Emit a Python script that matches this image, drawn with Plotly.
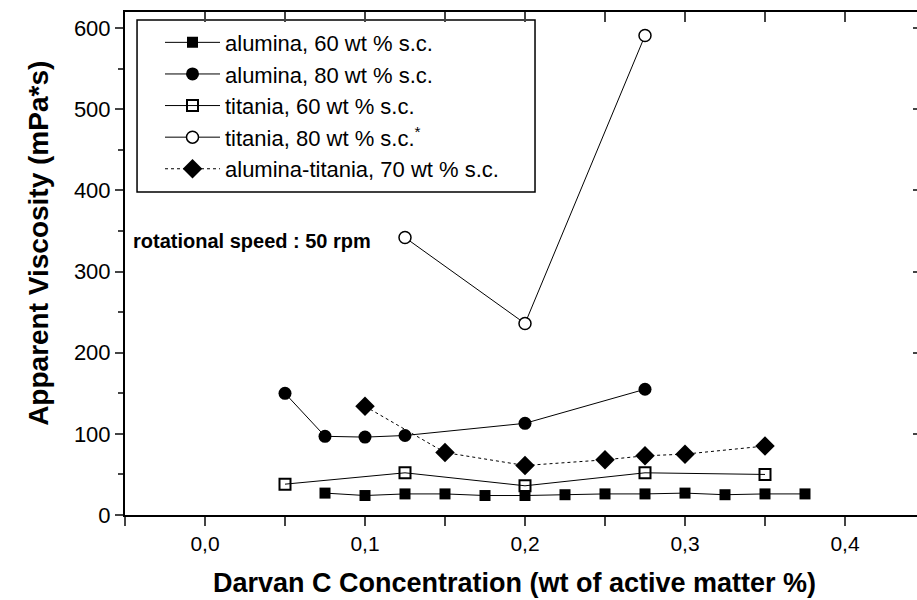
import plotly.graph_objects as go

# Data
a60_x = [0.075, 0.1, 0.125, 0.15, 0.175, 0.2, 0.225, 0.25, 0.275, 0.3, 0.325, 0.35, 0.375]
a60_y = [27, 24, 26, 26, 24, 24, 25, 26, 26, 27, 25, 26, 26]
a80_x = [0.05, 0.075, 0.1, 0.125, 0.2, 0.275]
a80_y = [150, 97, 96, 98, 113, 155]
t60_x = [0.05, 0.125, 0.2, 0.275, 0.35]
t60_y = [38, 52, 36, 52, 50]
t80_x = [0.125, 0.2, 0.275]
t80_y = [342, 236, 591]
at70_x = [0.1, 0.15, 0.2, 0.25, 0.275, 0.3, 0.35]
at70_y = [134, 77, 61, 68, 73, 75, 85]

names = ["alumina, 60 wt % s.c.", "alumina, 80 wt % s.c.", "titania, 60 wt % s.c.",
         "titania, 80 wt % s.c.<sup>*</sup>", "alumina-titania, 70 wt % s.c."]

fig = go.Figure()
line = dict(color="black", width=1)
fig.add_trace(go.Scatter(x=a60_x, y=a60_y, name=names[0], mode="lines+markers", line=line,
                         marker=dict(symbol="square", size=11, color="black"), legendgroup="a"))
fig.add_trace(go.Scatter(x=a80_x, y=a80_y, name=names[1], mode="lines+markers", line=line,
                         marker=dict(symbol="circle", size=13, color="black"), legendgroup="b"))
fig.add_trace(go.Scatter(x=t60_x, y=t60_y, name=names[2], mode="lines+markers", line=line,
                         marker=dict(symbol="square-open", size=11, color="black", line=dict(width=2)), legendgroup="c"))
fig.add_trace(go.Scatter(x=t80_x, y=t80_y, name=names[3], mode="lines+markers", line=line,
                         marker=dict(symbol="circle", size=12, color="white", line=dict(width=1.5, color="black")), legendgroup="d"))
fig.add_trace(go.Scatter(x=at70_x, y=at70_y, name=names[4], mode="lines+markers",
                         line=dict(color="black", width=1, dash="dot"),
                         marker=dict(symbol="diamond", size=15, color="black"), legendgroup="e"))

# dummy trace for mirrored axes
fig.add_trace(go.Scatter(x=[None], y=[None], xaxis="x2", yaxis="y2", showlegend=False))

xr = [-0.05, 0.445]
yr = [0, 620]
fig.update_layout(
    width=917, height=600,
    margin=dict(l=125, r=0, t=12, b=85),
    paper_bgcolor="white", plot_bgcolor="white",
    separators=",.",
    font=dict(family="Liberation Sans, Arial", color="black"),
    xaxis=dict(range=xr, showgrid=False, zeroline=False, showline=True, linecolor="black", linewidth=2,
               automargin=False,
               ticks="outside", ticklen=9, tickwidth=2, dtick=0.1, tick0=0, tickformat=".1f",
               tickfont=dict(size=21),
               minor=dict(dtick=0.05, tick0=0, ticks="outside", ticklen=9, tickwidth=2)),
    yaxis=dict(range=yr, showgrid=False, zeroline=False, showline=True, linecolor="black", linewidth=2,
               automargin=False,
               ticks="outside", ticklen=8, tickwidth=1.5, dtick=100, tick0=0,
               tickfont=dict(size=22),
               minor=dict(dtick=50, ticks="outside", ticklen=5, tickwidth=1.5)),
    xaxis2=dict(range=xr, overlaying="x", side="top", showgrid=False, zeroline=False, showline=True,
                automargin=False,
                linecolor="black", linewidth=2, ticks="inside", ticklen=10, tickwidth=2, dtick=0.05, tick0=0,
                showticklabels=False),
    yaxis2=dict(range=yr, overlaying="y", side="right", showgrid=False, zeroline=False, showline=False,
                automargin=False,
                ticks="inside", ticklen=4, tickwidth=2, dtick=100, tick0=0,
                showticklabels=False),
    legend=dict(x=0.0442, y=0.981, xanchor="left", yanchor="top", bgcolor="rgba(0,0,0,0)",
                borderwidth=0, font=dict(size=22), itemwidth=55, tracegroupgap=0),
    shapes=[dict(type="rect", xref="paper", yref="paper", x0=0.0152, x1=0.5177, y0=0.642, y1=0.984,
                 line=dict(color="black", width=1.5), fillcolor="white", layer="below")],
    annotations=[
        dict(text="<b>rotational speed : 50 rpm</b>", x=-0.046, y=338, xref="x", yref="y",
             xanchor="left", yanchor="middle", showarrow=False, font=dict(size=20)),
        dict(text="<b>Apparent Viscosity (mPa*s)</b>", x=-0.1086, y=0.541, xref="paper", yref="paper",
             xanchor="center", yanchor="middle", textangle=-90, showarrow=False, font=dict(size=28)),
        dict(text="<b>Darvan C Concentration (wt of active matter %)</b>", x=0.4924, y=-0.135,
             xref="paper", yref="paper", xanchor="center", yanchor="middle", showarrow=False,
             font=dict(size=27)),
    ],
)

fig.write_html("out.html", config={"displayModeBar": False},
               post_script="document.body.style.margin='0px';")
